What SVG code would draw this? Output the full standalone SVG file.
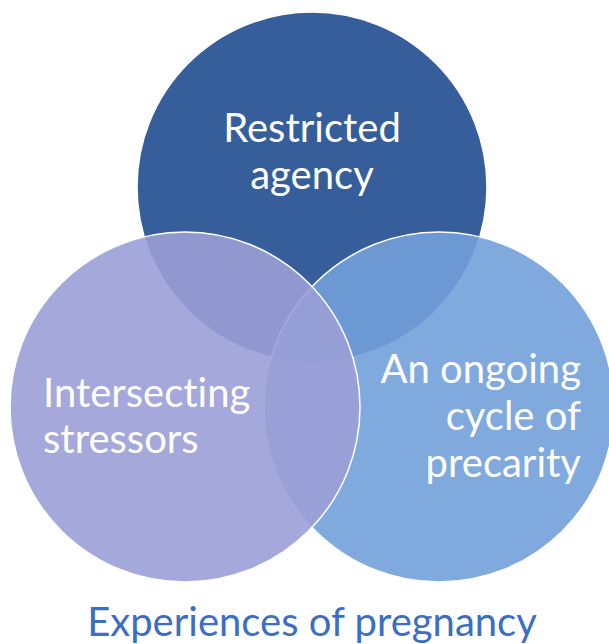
<svg xmlns="http://www.w3.org/2000/svg" width="609" height="644" viewBox="0 0 609 644">
<style>
.c{stroke:#ffffff;stroke-width:1.5}
.t,.cap{font-family:Lato,"Open Sans","Liberation Sans",sans-serif;font-size:40px;font-variant-ligatures:none;font-feature-settings:"liga" 0}
.t{fill:#ffffff}
.cap{fill:#3C6EC2}
</style>
<rect width="609" height="644" fill="#ffffff"/>
<g id="restricted-agency">
<circle class="c" cx="312" cy="187" r="175" fill="#355E9B"/>
</g>
<g id="ongoing-cycle">
<circle class="c" cx="439" cy="407" r="175" fill="#72A0DA" fill-opacity="0.9"/>
</g>
<g id="intersecting-stressors">
<circle class="c" cx="185" cy="407" r="175" fill="#9B9ED6" fill-opacity="0.9"/>
</g>
<g id="labels">
<text class="t" x="312" y="142" text-anchor="middle">Restricted</text>
<text class="t" x="312" y="189" text-anchor="middle">agency</text>
<text class="t" x="43" y="407">Intersecting</text>
<text class="t" x="43" y="453">stressors</text>
<text class="t" x="581" y="383" text-anchor="end">An ongoing</text>
<text class="t" x="581" y="430" text-anchor="end">cycle of</text>
<text class="t" x="581" y="477" text-anchor="end">precarity</text>
</g>
<g id="caption">
<text class="cap" x="312" y="636" text-anchor="middle">Experiences of pregnancy</text>
</g>
<g id="connectors"></g>
</svg>
